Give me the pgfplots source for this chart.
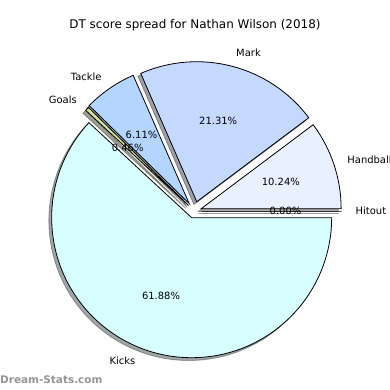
\documentclass[border=0pt]{standalone}
\usepackage{pgfplots}
\pgfplotsset{compat=1.18}
\usepackage{fontspec}
\setmainfont{DejaVu Sans}
\definecolor{cKicks}{HTML}{D8FFFF}
\definecolor{cHand}{HTML}{E9F0FF}
\definecolor{cHit}{HTML}{D0D8E8}
\definecolor{cMark}{HTML}{C5D9FF}
\definecolor{cTackle}{HTML}{B4D5FF}
\definecolor{cGoals}{HTML}{CFE0A2}
\def\cx{194.3}
\def\cy{179}
\def\rr{140}
% start pct, pct, explode (px), colour, label, pct text
\newcommand\forallslices[1]{%
 #1{0}{0.00}{7.2}{cHit}{Hitout}{0.00}%
 #1{0}{10.24}{7.2}{cHand}{Handball}{10.24}%
 #1{10.24}{21.31}{9.6}{cMark}{Mark}{21.31}%
 #1{31.55}{6.11}{9.0}{cTackle}{Tackle}{6.11}%
 #1{37.66}{0.46}{8.0}{cGoals}{Goals}{0.46}%
 #1{38.12}{61.88}{7.2}{cKicks}{Kicks}{61.88}%
}
\newcommand\getgeom[3]{%
  \pgfmathsetmacro\sa{3.6*#1}%
  \pgfmathsetmacro\ea{3.6*(#1+#2)}%
  \pgfmathsetmacro\ma{(\sa+\ea)/2}%
  \pgfmathsetmacro\vx{\cx+#3*cos(\ma)}%
  \pgfmathsetmacro\vy{\cy+#3*sin(\ma)}%
  \pgfmathsetmacro\sx{\vx-2.8}%
  \pgfmathsetmacro\sy{\vy-2.8}%
  \pgfmathsetmacro\lx{\vx+1.1*\rr*cos(\ma)}%
  \pgfmathsetmacro\ly{\vy+1.1*\rr*sin(\ma)}%
  \pgfmathsetmacro\px{\vx+0.6*\rr*cos(\ma)}%
  \pgfmathsetmacro\py{\vy+0.6*\rr*sin(\ma)}%
  \pgfmathtruncatemacro\isright{cos(\ma)>0}%
  \ifnum\isright=1 \def\anc{west}\else\def\anc{east}\fi
}
\newcommand\pieshadow[6]{\getgeom{#1}{#2}{#3}%
  \filldraw[draw=#4!30!black, fill=#4!30!black, fill opacity=0.5, draw opacity=0.5, line width=0.8bp]
    (axis cs:\sx,\sy) -- ++(\sa:\rr bp) arc[start angle=\sa, end angle=\ea, radius=\rr bp] -- cycle;}
\newcommand\piefill[6]{\getgeom{#1}{#2}{#3}%
  \filldraw[fill=#4, draw=black, line width=0.8bp, line join=miter]
    (axis cs:\vx,\vy) -- ++(\sa:\rr bp) arc[start angle=\sa, end angle=\ea, radius=\rr bp] -- cycle;}
\newcommand\pielabel[6]{\getgeom{#1}{#2}{#3}%
  \node[anchor=\anc, inner sep=0pt, font=\fontsize{10}{12}\selectfont] at (axis cs:\lx,\ly) {#5};
  \node[anchor=center, inner sep=0pt, font=\fontsize{10}{12}\selectfont] at (axis cs:\px,\py) {#6\%};}
\begin{document}
\begin{tikzpicture}
\begin{axis}[hide axis, x=1bp, y=1bp, xmin=0, xmax=390, ymin=0, ymax=390, clip=false]
\pgfplotsextra{%
  \forallslices\pieshadow
  \forallslices\piefill
  \forallslices\pielabel
  \node[font=\fontsize{12}{14}\selectfont, inner sep=0pt] at (axis cs:195,365) {DT score spread for Nathan Wilson (2018)};
  \node[font=\fontsize{10.5}{12}\selectfont\bfseries, text=black!42, anchor=west, inner sep=0pt] at (axis cs:0,10) {Dream-Stats.com};
  \coordinate (BL) at (axis cs:0,0);
  \coordinate (TR) at (axis cs:390,390);
}
\end{axis}
\pgfresetboundingbox
\useasboundingbox (BL) rectangle (TR);
\end{tikzpicture}
\end{document}
